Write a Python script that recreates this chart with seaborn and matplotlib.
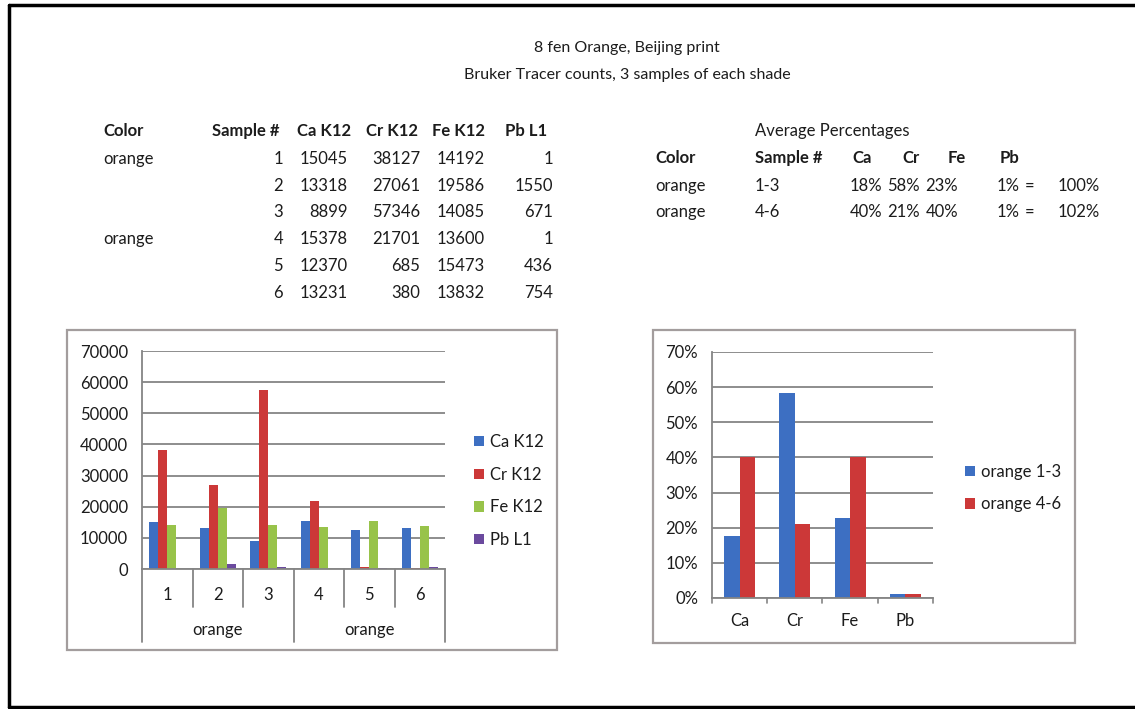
import pandas as pd
import matplotlib
matplotlib.use("Agg")
import matplotlib.pyplot as plt
import matplotlib.transforms as mtrans
from matplotlib.patches import Rectangle
from matplotlib.lines import Line2D
import seaborn as sns

# raw counts table
sample_ids = [1, 2, 3, 4, 5, 6]
group_labels = ["orange", "orange"]
ca_k12 = [15045, 13318, 8899, 15378, 12370, 13231]
cr_k12 = [38127, 27061, 57346, 21701, 685, 380]
fe_k12 = [14192, 19586, 14085, 13600, 15473, 13832]
pb_l1 = [1, 1550, 671, 1, 436, 754]
count_series = ["Ca K12", "Cr K12", "Fe K12", "Pb L1"]

# average percentages (as plotted)
elements = ["Ca", "Cr", "Fe", "Pb"]
pct_1_3 = [0.177, 0.584, 0.228, 0.011]
pct_4_6 = [0.400, 0.210, 0.400, 0.011]
pct_series = ["orange 1-3", "orange 4-6"]
pct_ranges = ["1-3", "4-6"]

W, H = 1135, 709
BLUE, RED, GREEN, PURPLE = "#3D6FC2", "#CC3838", "#98C34A", "#6B4A9E"
GRID = "#858585"
TXT = "#1c1c1c"

sns.set_style("white")
plt.rcParams["font.family"] = ["Lato", "DejaVu Sans"]

fig = plt.figure(figsize=(W / 100, H / 100), dpi=100)


def fx(x):
    return x / W


def fy(y):
    return 1 - y / H


def put(x, y, s, ha="left", bold=False, size=12):
    fig.text(fx(x), fy(y), s, ha=ha, va="center", fontsize=size, color=TXT,
             fontweight="bold" if bold else "normal")


# page border (left, top, bottom)
for xs, ys in [((8.5, 8.5), (5, 707)), ((8.5, 1135), (5, 5)), ((8.5, 1135), (707, 707))]:
    fig.add_artist(Line2D([fx(x) for x in xs], [fy(y) for y in ys], color="black", lw=2.5,
                          transform=fig.transFigure))

# titles
put(627, 48, "8 fen Orange, Beijing print", ha="center", size=11.5)
put(627, 75, "Bruker Tracer counts, 3 samples of each shade", ha="center", size=11.5)

# left table
row_y = [159 + 26.7 * i for i in range(6)]
put(103, 131, "Color", bold=True)
for x, s in zip([279, 351, 418, 485, 547], ["Sample #"] + count_series):
    put(x, 131, s, ha="right", bold=True)
put(103, row_y[0], group_labels[0])
put(103, row_y[3], group_labels[1])
for i in range(6):
    for x, v in zip([283, 348, 420, 485, 553], [sample_ids[i], ca_k12[i], cr_k12[i], fe_k12[i], pb_l1[i]]):
        put(x, row_y[i], str(v), ha="right")

# right table
put(755, 131, "Average Percentages")
put(655, 158, "Color", bold=True)
put(755, 158, "Sample #", bold=True)
for x, s in zip([852, 902, 948, 1000], elements):
    put(x, 158, s, bold=True)
for ry, rng, vals in zip([186, 212], pct_ranges, [pct_1_3, pct_4_6]):
    put(655, ry, "orange")
    put(755, ry, rng)
    for x, v in zip([882, 920, 958, 1020], vals):
        put(x, ry, f"{round(v * 100):d}%", ha="right")
    put(1030, ry, "=", ha="center")
    put(1100, ry, f"{round(sum(vals) * 100):d}%", ha="right")

# chart frames
for x0, y0, x1, y1 in [(67, 330, 557, 650), (653, 330, 1075, 643)]:
    fig.add_artist(Rectangle((fx(x0), fy(y1)), fx(x1) - fx(x0), fy(y0) - fy(y1),
                             transform=fig.transFigure, fill=False, ec="#a39d9d", lw=1.6))

# ---- left chart: raw counts
df_counts = pd.DataFrame({
    "sample": [str(s) for s in sample_ids] * 4,
    "series": [s for s in count_series for _ in sample_ids],
    "value": ca_k12 + cr_k12 + fe_k12 + pb_l1,
})
ax1 = fig.add_axes([fx(142), fy(569), fx(445) - fx(142), fy(351) - fy(569)])
sns.barplot(data=df_counts, x="sample", y="value", hue="series", ax=ax1,
            palette=[BLUE, RED, GREEN, PURPLE], saturation=1, width=0.72, linewidth=0)
ax1.set_ylim(0, 70000)
ax1.set_xlim(-0.5, 5.5)
ax1.set_yticks(range(0, 70001, 10000))
ax1.yaxis.grid(True, color=GRID, lw=1.3)
ax1.set_axisbelow(True)
for s in ["top", "right"]:
    ax1.spines[s].set_visible(False)
for s in ["left", "bottom"]:
    ax1.spines[s].set_color(GRID)
    ax1.spines[s].set_linewidth(1.3)
ax1.tick_params(axis="y", length=4, color=GRID, labelsize=12, labelcolor=TXT, pad=6)
ax1.tick_params(axis="x", length=0, labelsize=12, labelcolor=TXT, pad=13)
ax1.set_xlabel("")
ax1.set_ylabel("")
blend = mtrans.blended_transform_factory(ax1.transData, ax1.transAxes)
for b in [0.5, 1.5, 3.5, 4.5]:
    ax1.plot([b, b], [0, -38 / 218], color=GRID, lw=1.3, transform=blend, clip_on=False)
for b in [-0.5, 2.5, 5.5]:
    ax1.plot([b, b], [0, -73 / 218], color=GRID, lw=1.3, transform=blend, clip_on=False)
for cx, g in zip([1, 4], group_labels):
    ax1.text(cx, -61 / 218, g, ha="center", va="center", fontsize=12, color=TXT, transform=blend)
ax1.legend(loc="center left", bbox_to_anchor=(fx(459), fy(491)), bbox_transform=fig.transFigure,
           frameon=False, fontsize=12, handlelength=0.6, handleheight=0.6, handletextpad=0.35,
           labelspacing=1.0, labelcolor=TXT)

# ---- right chart: average percentages
df_pct = pd.DataFrame({
    "element": elements * 2,
    "series": [s for s in pct_series for _ in elements],
    "value": pct_1_3 + pct_4_6,
})
ax2 = fig.add_axes([fx(712), fy(598), fx(933) - fx(712), fy(352) - fy(598)])
sns.barplot(data=df_pct, x="element", y="value", hue="series", ax=ax2,
            palette=[BLUE, RED], saturation=1, width=0.565, linewidth=0)
ax2.set_ylim(0, 0.7)
ax2.set_xlim(-0.5, 3.5)
ax2.set_yticks([i / 10 for i in range(8)])
ax2.set_yticklabels([f"{i * 10}%" for i in range(8)])
ax2.yaxis.grid(True, color=GRID, lw=1.3)
ax2.set_axisbelow(True)
for s in ["top", "right"]:
    ax2.spines[s].set_visible(False)
for s in ["left", "bottom"]:
    ax2.spines[s].set_color(GRID)
    ax2.spines[s].set_linewidth(1.3)
ax2.tick_params(axis="y", length=4, color=GRID, labelsize=12, labelcolor=TXT, pad=6)
ax2.tick_params(axis="x", length=0, labelsize=12, labelcolor=TXT, pad=11)
ax2.set_xlabel("")
ax2.set_ylabel("")
blend2 = mtrans.blended_transform_factory(ax2.transData, ax2.transAxes)
for b in [-0.5, 0.5, 1.5, 2.5, 3.5]:
    ax2.plot([b, b], [0, -5 / 246], color=GRID, lw=1.2, transform=blend2, clip_on=False)
ax2.legend(loc="center left", bbox_to_anchor=(fx(950), fy(488)), bbox_transform=fig.transFigure,
           frameon=False, fontsize=12, handlelength=0.6, handleheight=0.6, handletextpad=0.35,
           labelspacing=1.0, labelcolor=TXT)

fig.savefig("out.png", dpi=100)
